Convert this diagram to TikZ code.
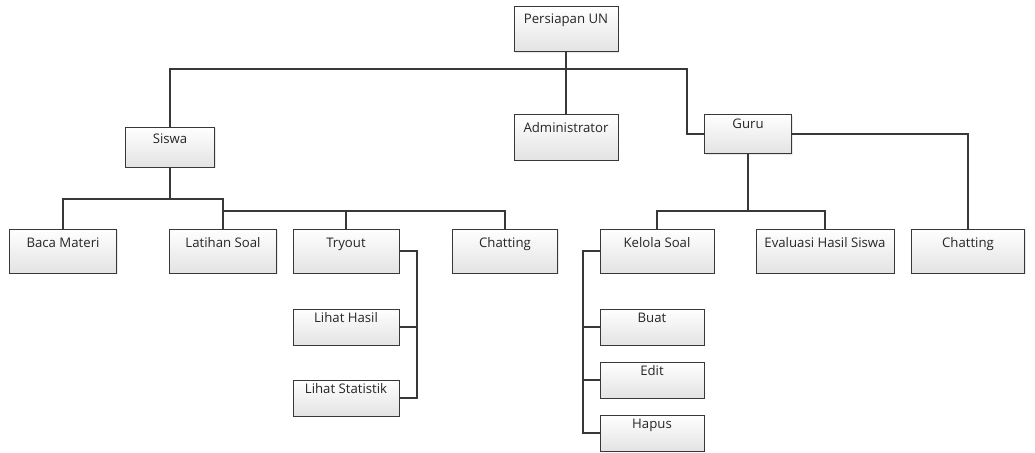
\documentclass[tikz,border=0pt]{standalone}
\usepackage{fontspec}
\setmainfont{Open Sans}
\usetikzlibrary{shadows}
\definecolor{ink}{HTML}{383838}
\definecolor{txt}{HTML}{262626}
\begin{document}
\begin{tikzpicture}[x=1pt,y=-1pt,
  box/.style={draw=ink, line width=1pt, rectangle, inner sep=0pt,
    top color=white, bottom color=black!11, text=txt,
    font=\fontsize{13.2}{15}\selectfont,
    drop shadow={opacity=0.18, shadow xshift=1.2pt, shadow yshift=-1.2pt}},
  wire/.style={draw=ink, line width=1.3pt}]
\useasboundingbox (0,0) rectangle (1035,452);
% box: width, height, baseline distance below top edge
\newcommand\orgbox[6]{%
  \node[box, minimum width=#3pt, text height=#5pt, text depth=#4pt-#5pt] (#1) at (#2) {#6};}

% top levels
\orgbox{pun}{566,29.5}{104}{45}{17}{Persiapan UN}
\orgbox{adm}{566,137}{104}{46}{18}{Administrator}
\orgbox{siswa}{170,147}{89}{40}{16}{Siswa}
\orgbox{guru}{748,134}{87}{39}{14}{Guru}

% Siswa branch
\orgbox{baca}{63,251}{107}{44}{18}{Baca Materi}
\orgbox{latihan}{223,251}{107}{44}{18}{Latihan Soal}
\orgbox{tryout}{346,251}{106}{44}{18}{Tryout}
\orgbox{chatA}{505,251}{105}{44}{18}{Chatting}
\orgbox{lhasil}{346,327}{106}{36}{13}{Lihat Hasil}
\orgbox{lstat}{346,398}{106}{36}{13}{Lihat Statistik}

% Guru branch
\orgbox{kelola}{657,251}{114}{44}{18}{Kelola Soal}
\orgbox{eval}{825,251}{138}{44}{18}{Evaluasi Hasil Siswa}
\orgbox{chatB}{968,251}{113}{44}{18}{Chatting}
\orgbox{buat}{652,327}{104}{36}{13}{Buat}
\orgbox{edit}{652,380}{104}{36}{13}{Edit}
\orgbox{hapus}{652,433}{104}{36}{13}{Hapus}

% junction points
\coordinate (rootbar) at (687,69);
\coordinate (sj) at (170,199);
\coordinate (sbar) at (223,211);
\coordinate (gj) at (748,211);
\coordinate (tv) at (417,398);
\coordinate (kv) at (583,433);

% root level
\draw[wire] (pun.south) -- (adm.north);
\draw[wire] (siswa.north) |- (rootbar) |- (guru.west);

% Siswa level
\draw[wire] (siswa.south) -- (sj);
\draw[wire] (baca.north) |- (sj) -| (latihan.north);
\draw[wire] (sbar) -| (chatA.north);
\draw[wire] (tryout.north) -- (tryout.north |- sbar);
\draw[wire] (tryout.east) -| (tv) -- (lstat.east);
\draw[wire] (lhasil.east) -- (lhasil.east -| tv);

% Guru level
\draw[wire] (guru.east) -| (chatB.north);
\draw[wire] (guru.south) -- (gj);
\draw[wire] (kelola.north) |- (gj) -| (eval.north);
\draw[wire] (kelola.west) -| (kv) -- (hapus.west);
\draw[wire] (buat.west) -- (buat.west -| kv);
\draw[wire] (edit.west) -- (edit.west -| kv);
\end{tikzpicture}
\end{document}
